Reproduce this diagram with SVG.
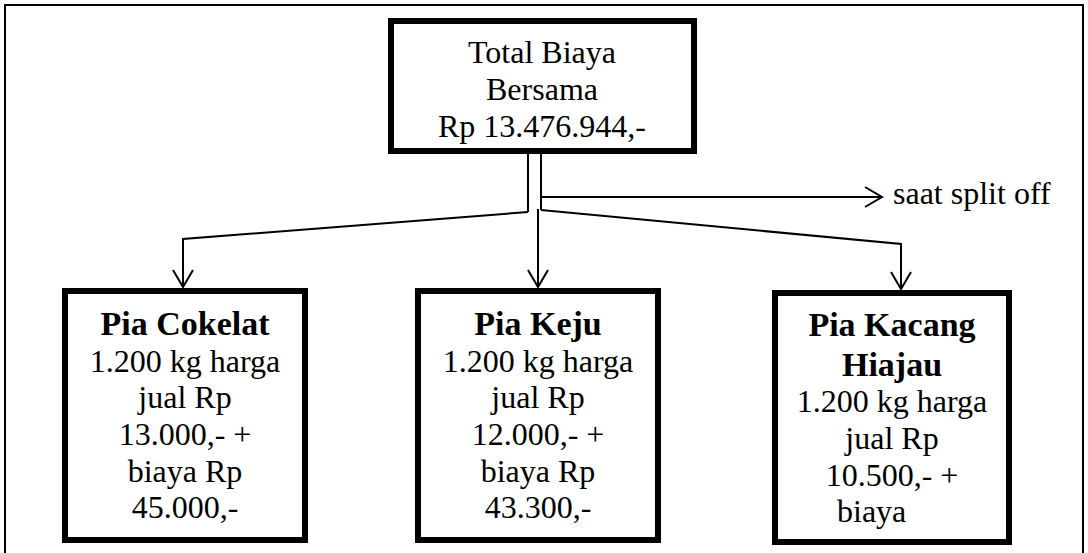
<svg xmlns="http://www.w3.org/2000/svg" width="1088" height="553" viewBox="0 0 1088 553">
<style>
.box{fill:#fff;stroke:#000;stroke-width:6}
.frame{fill:none;stroke:#000;stroke-width:2}
.t{font-family:"Liberation Serif","Times New Roman",serif;font-size:32px;fill:#000;text-anchor:middle}
.b{font-weight:bold;font-size:34px}
.c{fill:none;stroke:#000;stroke-width:2}
</style>
<defs>
<marker id="ah" viewBox="0 0 20 24" refX="18" refY="12" markerWidth="20" markerHeight="24" markerUnits="userSpaceOnUse" orient="auto">
<path d="M1,2 L18,12 L1,22" fill="none" stroke="#000" stroke-width="2"/>
</marker>
</defs>
<rect class="frame" x="5" y="5" width="1078" height="570"/>
<g id="connectors">
<line class="c" x1="528" y1="154" x2="528" y2="212"/>
<line class="c" x1="541" y1="154" x2="541" y2="210"/>
<line class="c" x1="541" y1="197" x2="882" y2="197" marker-end="url(#ah)"/>
<line class="c" x1="538" y1="209" x2="538" y2="287" marker-end="url(#ah)"/>
<polyline class="c" points="528,212 183,239 183,287" marker-end="url(#ah)"/>
<polyline class="c" points="541,210 901,244 901,289" marker-end="url(#ah)"/>
<text class="t" x="893" y="204" style="text-anchor:start">saat split off</text>
</g>
<g id="total">
<rect class="box" x="391" y="21" width="303" height="130"/>
<text class="t" x="542" y="63">Total Biaya</text>
<text class="t" x="542" y="100">Bersama</text>
<text class="t" x="542" y="137">Rp 13.476.944,-</text>
</g>
<g id="cokelat">
<rect class="box" x="65" y="291" width="240" height="249"/>
<text class="t b" x="185" y="335">Pia Cokelat</text>
<text class="t" x="185" y="372">1.200 kg harga</text>
<text class="t" x="185" y="408">jual Rp</text>
<text class="t" x="185" y="445">13.000,- +</text>
<text class="t" x="185" y="482">biaya Rp</text>
<text class="t" x="185" y="518">45.000,-</text>
</g>
<g id="keju">
<rect class="box" x="418" y="291" width="240" height="249"/>
<text class="t b" x="538" y="335">Pia Keju</text>
<text class="t" x="538" y="372">1.200 kg harga</text>
<text class="t" x="538" y="408">jual Rp</text>
<text class="t" x="538" y="445">12.000,- +</text>
<text class="t" x="538" y="482">biaya Rp</text>
<text class="t" x="538" y="518">43.300,-</text>
</g>
<g id="kacang">
<rect class="box" x="775" y="293" width="234" height="249"/>
<text class="t b" x="892" y="336">Pia Kacang</text>
<text class="t b" x="892" y="376">Hiajau</text>
<text class="t" x="892" y="412">1.200 kg harga</text>
<text class="t" x="892" y="449">jual Rp</text>
<text class="t" x="892" y="486">10.500,- +</text>
<text class="t" x="837" y="522" style="text-anchor:start">biaya</text>
</g>
</svg>
